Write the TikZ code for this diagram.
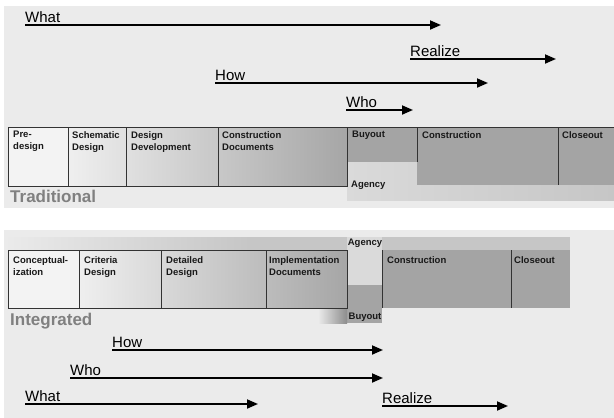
\documentclass[tikz,border=0pt]{standalone}
\usepackage{fontspec}
\setmainfont{Liberation Sans}
\usetikzlibrary{arrows.meta}

\definecolor{panel}{HTML}{EBEBEB}
\definecolor{lightbox}{HTML}{F3F3F3}
\definecolor{midbox}{HTML}{EFEFEF}
\definecolor{darkbox}{HTML}{A6A6A6}
\definecolor{build}{HTML}{A4A4A4}
\definecolor{agency}{HTML}{DADADA}
\definecolor{strip}{HTML}{C6C6C6}
\definecolor{edge}{HTML}{333333}

\begin{document}
\begin{tikzpicture}[x=1pt,y=-1pt,>={Triangle[length=11pt,width=9pt]}]
\tikzstyle{phase} = [anchor=north west, inner sep=0pt, align=left, text=black!90, font=\fontsize{9.5}{12}\selectfont\bfseries]
\tikzstyle{cue} = [anchor=south west, inner xsep=0pt, inner ysep=2.5pt, font=\fontsize{15}{15}\selectfont]
\tikzstyle{track} = [->, line width=1.8pt]
\tikzstyle{frame} = [draw=edge, line width=0.9pt]
\tikzstyle{method} = [anchor=base west, inner sep=0pt, text=black!50, font=\fontsize{17}{17}\selectfont\bfseries]

\useasboundingbox (0,0) rectangle (614,418);

% panels
\fill[panel] (4,6) rectangle (614,208);
\fill[panel] (4,230) rectangle (614,418);

% traditional
\fill[lightbox] (8,127) rectangle (68,186);
\shade[left color=midbox, right color=darkbox] (68,127) rectangle (347,186);
\shade[left color=agency, right color=strip] (347,162) rectangle (614,200);
\fill[build] (347,127) rectangle (614,162);
\fill[build] (417,127) rectangle (614,185);
\draw[frame] (8,127) rectangle (347,186);
\draw[frame] (68,127) -- (68,186);
\draw[frame] (126,127) -- (126,186);
\draw[frame] (218,127) -- (218,186);
\draw[frame] (347,127) -- (614,127);
\draw[frame] (417,127) -- (417,162);
\draw[frame] (558,127) -- (558,185);

\node (predesign) at (13,131) [phase] {Pre-\\design};
\node (schematic) at (72,131) [phase] {Schematic\\Design};
\node (devel) at (131,131) [phase] {Design\\Development};
\node (cdocs) at (222,131) [phase] {Construction\\Documents};
\node (buyout) at (352,131) [phase] {Buyout};
\node (constr) at (422,131) [phase] {Construction};
\node (closeout) at (562,131) [phase] {Closeout};
\node (agency) at (351,181) [phase] {Agency};
\node (trad) at (10,202) [method] {Traditional};

% integrated
\shade[left color=panel, right color=strip] (4,237) rectangle (250,250);
\fill[strip] (250,237) rectangle (570,250);
\fill[lightbox] (8,250) rectangle (79,308);
\shade[left color=midbox, right color=darkbox] (79,250) rectangle (347,308);
\fill[agency] (347,237) rectangle (382,285);
\fill[build] (347,285) rectangle (382,323);
\shade[left color=panel, right color=black!45] (318,308) rectangle (347,323);
\fill[build] (382,250) rectangle (570,308);
\draw[frame] (8,250) rectangle (347,308);
\draw[frame] (79,250) -- (79,308);
\draw[frame] (161,250) -- (161,308);
\draw[frame] (266,250) -- (266,308);
\draw[frame] (382,250) -- (382,308);
\draw[frame] (511,250) -- (511,308);

\node (concept) at (13,256) [phase] {Conceptual-\\ization};
\node (criteria) at (84,256) [phase] {Criteria\\Design};
\node (detailed) at (166,256) [phase] {Detailed\\Design};
\node (impl) at (269,256) [phase] {Implementation\\Documents};
\node (agency2) at (365,239) [phase, anchor=north] {Agency};
\node (buyout2) at (365,313) [phase, anchor=north] {Buyout};
\node (constr2) at (387,256) [phase] {Construction};
\node (closeout2) at (514,256) [phase] {Closeout};
\node (integ) at (10,325) [method] {Integrated};

% arrows, traditional
\node (what) at (25,25) [cue] {What};
\node (realize) at (410,59) [cue] {Realize};
\node (how) at (215,83) [cue] {How};
\node (who) at (346,110) [cue] {Who};
\coordinate (whatend) at (441,25);
\coordinate (realizeend) at (556,59);
\coordinate (howend) at (488,83);
\coordinate (whoend) at (413,110);
\draw[track] (what.south west) -- (whatend);
\draw[track] (realize.south west) -- (realizeend);
\draw[track] (how.south west) -- (howend);
\draw[track] (who.south west) -- (whoend);

% arrows, integrated
\node (how2) at (112,350) [cue] {How};
\node (who2) at (70,378) [cue] {Who};
\node (what2) at (25,404) [cue] {What};
\node (realize2) at (382,406) [cue] {Realize};
\coordinate (how2end) at (383,350);
\coordinate (who2end) at (383,378);
\coordinate (what2end) at (258,404);
\coordinate (realize2end) at (508,406);
\draw[track] (how2.south west) -- (how2end);
\draw[track] (who2.south west) -- (who2end);
\draw[track] (what2.south west) -- (what2end);
\draw[track] (realize2.south west) -- (realize2end);

\end{tikzpicture}
\end{document}
